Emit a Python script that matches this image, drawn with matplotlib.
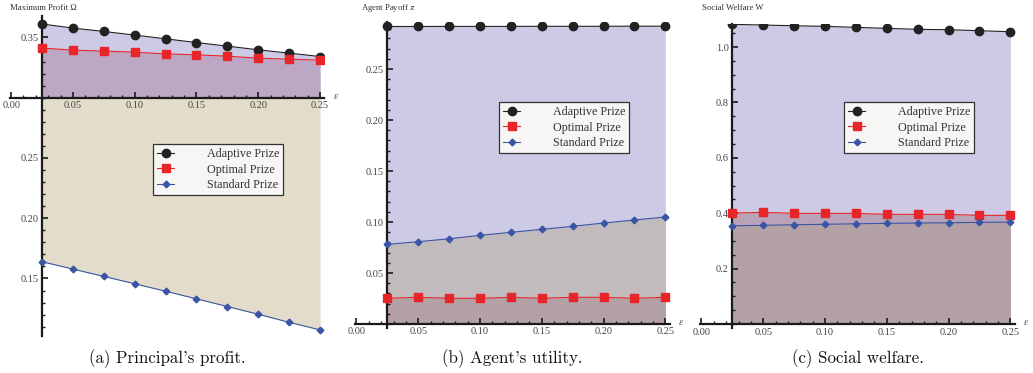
import numpy as np
import matplotlib
matplotlib.use("Agg")
import matplotlib.pyplot as plt
from matplotlib.ticker import MultipleLocator, FormatStrFormatter

plt.rcParams['font.family'] = ['Liberation Serif', 'DejaVu Serif']
plt.rcParams['mathtext.fontset'] = 'stix'

eps = [0.025, 0.05, 0.075, 0.10, 0.125, 0.15, 0.175, 0.20, 0.225, 0.25]

# principal's profit
profit_adaptive = [0.3612, 0.3578, 0.3550, 0.3520, 0.3489, 0.3458, 0.3428, 0.3398, 0.3370, 0.3342]
profit_optimal = [0.3412, 0.3395, 0.3387, 0.3378, 0.3364, 0.3356, 0.3345, 0.3328, 0.3320, 0.3312]
profit_standard = [0.1639, 0.1578, 0.1517, 0.1456, 0.1394, 0.1331, 0.1267, 0.1203, 0.1136, 0.1073]

# agent's utility
payoff_adaptive = [0.2917, 0.2917, 0.2918, 0.2918, 0.2918, 0.2919, 0.2919, 0.2919, 0.2920, 0.2920]
payoff_optimal = [0.0252, 0.0262, 0.0252, 0.0252, 0.0262, 0.0252, 0.0262, 0.0262, 0.0252, 0.0262]
payoff_standard = [0.0781, 0.0807, 0.0836, 0.0869, 0.0899, 0.0928, 0.0958, 0.0990, 0.1020, 0.1049]

# social welfare
welfare_adaptive = [1.0820, 1.0794, 1.0769, 1.0747, 1.0711, 1.0675, 1.0639, 1.0626, 1.0589, 1.0553]
welfare_optimal = [0.4007, 0.4032, 0.3996, 0.3996, 0.3996, 0.3960, 0.3960, 0.3960, 0.3924, 0.3924]
welfare_standard = [0.3549, 0.3563, 0.3585, 0.3600, 0.3621, 0.3635, 0.3646, 0.3657, 0.3671, 0.3682]

labels = ['Adaptive Prize', 'Optimal Prize', 'Standard Prize']
titles = ['Maximum Profit \u03a9', r'Agent Payoff $\pi$', 'Social Welfare W']
captions = ["(a) Principal's profit.", "(b) Agent's utility.", "(c) Social welfare."]

W, H = 1033, 373
fig = plt.figure(figsize=(W / 100, H / 100), dpi=100)

LAVENDER = '#cdcae5'
MAUVE = '#bca8c5'
TAN = '#e3dccb'
GREY = '#c1bbbe'
ROSE = '#b4a1a6'
PLUM = '#b9a3b9'


def make_axes(left, right, top, bottom, xlim, ylim):
    ax = fig.add_axes([left / W, 1 - bottom / H, (right - left) / W, (bottom - top) / H])
    ax.set_xlim(*xlim)
    ax.set_ylim(*ylim)
    ax.patch.set_alpha(0)
    for s in ['top', 'right']:
        ax.spines[s].set_visible(False)
    for s in ['left', 'bottom']:
        ax.spines[s].set_linewidth(1.6)
        ax.spines[s].set_color('#1a1a1a')
    ax.tick_params(which='both', direction='in', color='#1a1a1a', labelsize=7.5,
                   labelcolor='#444444', pad=2.5)
    ax.tick_params(which='major', length=4, width=1.2)
    ax.tick_params(which='minor', length=2.5, width=1.0)
    ax.xaxis.set_major_locator(MultipleLocator(0.05))
    ax.xaxis.set_minor_locator(MultipleLocator(0.01))
    ax.xaxis.set_major_formatter(FormatStrFormatter('%.2f'))
    return ax


def draw_lines(ax, a, o, s):
    ax.plot(eps, a, color='#222222', lw=0.8, marker='o', ms=6, label=labels[0], zorder=5)
    ax.plot(eps, o, color='#e8262a', lw=0.8, marker='s', ms=5.2, label=labels[1], zorder=5)
    ax.plot(eps, s, color='#3a55a5', lw=0.8, marker='D', ms=3.4, label=labels[2], zorder=5)


def add_legend(ax, x, y):
    leg = ax.legend(loc='upper left', bbox_to_anchor=(x / W, 1 - y / H),
                    bbox_transform=fig.transFigure, borderaxespad=0, fontsize=8.7,
                    handlelength=1.4, handletextpad=2.7, labelspacing=0.28,
                    borderpad=0.35, fancybox=False, framealpha=1, edgecolor='#333333')
    leg.get_frame().set_linewidth(0.9)
    leg.get_frame().set_facecolor('#f7f6f4')
    for t in leg.get_texts():
        t.set_color('#333333')
    leg.set_zorder(10)
    # a little extra room on the right side of the box
    leg._legend_box.sep = 0
    return leg


def eps_label(ax, yval):
    ax.annotate(r'$\epsilon$', xy=(1, yval), xycoords=('axes fraction', 'data'),
                xytext=(6, 1), textcoords='offset points', fontsize=7,
                color='#444444', va='center', ha='left')


# (a) profit, axes cross at 0.30
ax1 = make_axes(9.9, 324.4, 15.8, 336.3, (-0.001, 0.2535), (0.102, 0.368))
ax1.spines['left'].set_position(('data', 0.025))
ax1.spines['bottom'].set_position(('data', 0.30))
ax1.fill_between(eps, profit_adaptive, 0.30, color=LAVENDER, lw=0)
ax1.fill_between(eps, profit_optimal, 0.30, color=MAUVE, lw=0)
ax1.fill_between(eps, profit_standard, 0.30, color=TAN, lw=0)
draw_lines(ax1, profit_adaptive, profit_optimal, profit_standard)
ax1.yaxis.set_minor_locator(MultipleLocator(0.01))
ax1.set_yticks([0.15, 0.20, 0.25, 0.35])
ax1.yaxis.set_major_formatter(FormatStrFormatter('%.2f'))
add_legend(ax1, 153, 144)
eps_label(ax1, 0.30)

# (b) agent payoff
ax2 = make_axes(355.2, 669.7, 21.6, 328.1, (-0.001, 0.2535), (-0.004, 0.2965))
ax2.spines['left'].set_position(('data', 0.025))
ax2.spines['bottom'].set_position(('data', 0))
ax2.fill_between(eps, payoff_adaptive, 0, color=LAVENDER, lw=0)
ax2.fill_between(eps, payoff_standard, 0, color=GREY, lw=0)
ax2.fill_between(eps, payoff_optimal, 0, color=ROSE, lw=0)
draw_lines(ax2, payoff_adaptive, payoff_optimal, payoff_standard)
ax2.set_yticks([0.05, 0.10, 0.15, 0.20, 0.25])
ax2.yaxis.set_minor_locator(MultipleLocator(0.01))
ax2.yaxis.set_major_formatter(FormatStrFormatter('%.2f'))
add_legend(ax2, 499, 102)
eps_label(ax2, 0)

# (c) social welfare
ax3 = make_axes(700.2, 1014.7, 23.5, 328.2, (-0.001, 0.2535), (-0.015, 1.085))
ax3.spines['left'].set_position(('data', 0.025))
ax3.spines['bottom'].set_position(('data', 0))
ax3.fill_between(eps, welfare_adaptive, 0, color=LAVENDER, lw=0)
ax3.fill_between(eps, welfare_optimal, 0, color=PLUM, lw=0)
ax3.fill_between(eps, welfare_standard, 0, color=ROSE, lw=0)
draw_lines(ax3, welfare_adaptive, welfare_optimal, welfare_standard)
ax3.set_yticks([0.2, 0.4, 0.6, 0.8, 1.0])
ax3.yaxis.set_minor_locator(MultipleLocator(0.05))
ax3.yaxis.set_major_formatter(FormatStrFormatter('%.1f'))
add_legend(ax3, 844, 102)
eps_label(ax3, 0)

# axis titles and captions
for x, t in zip([10, 361, 702], titles):
    fig.text(x / W, 1 - 8 / H, t, fontsize=6.2, color='#333333', ha='left', va='center')
for x, c in zip([167, 512.5, 857.5], captions):
    fig.text(x / W, 1 - 359 / H, c, fontsize=12.2, family='cmr10', color='#111111',
             ha='center', va='center')

fig.savefig('out.png', dpi=100)
